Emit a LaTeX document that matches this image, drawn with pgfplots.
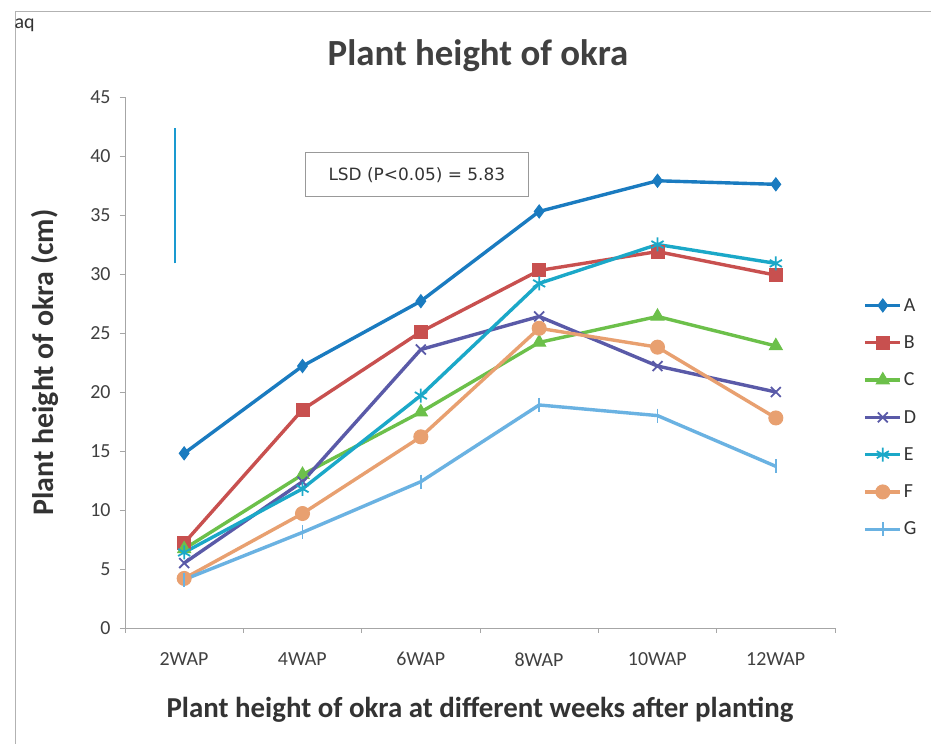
\documentclass[border=0pt]{standalone}
\usepackage{fontspec}
\setmainfont{Carlito}
\newfontfamily\lsdfont{DejaVu Sans}
\usepackage{pgfplots}
\pgfplotsset{compat=1.18}
\definecolor{cA}{HTML}{1A7BC0}
\definecolor{cB}{HTML}{C8504F}
\definecolor{cC}{HTML}{6CC04A}
\definecolor{cD}{HTML}{5A5AA8}
\definecolor{cE}{HTML}{1BA8C8}
\definecolor{cF}{HTML}{E8A070}
\definecolor{cG}{HTML}{6AB2E2}
\definecolor{cL}{HTML}{1A9AD0}
\begin{document}
\begin{tikzpicture}
\useasboundingbox (0,0) rectangle (931bp,744bp);
\fill[white] (0,0) rectangle (931bp,744bp);
\draw[gray!60, line width=1bp] (15bp,0) -- (15bp,732bp) -- (931bp,732bp);
\node[anchor=west, font=\fontsize{20}{22}\selectfont, text=black!80] at (11bp,719bp) {aq};
\node[font=\bfseries\fontsize{37}{40}\selectfont, text=black!75] at (478bp,688bp) {Plant height of okra};
\begin{axis}[
  at={(125bp,116bp)}, anchor=south west,
  scale only axis, width=710bp, height=531bp,
  xmin=-0.5, xmax=5.5, ymin=0, ymax=45,
  axis lines*=left,
  axis line style={gray!70, line width=0.8bp},
  xtick={-0.5,0.5,...,5.5},
  xticklabels={2WAP,4WAP,6WAP,8WAP,10WAP,12WAP,{}},
  ytick={0,5,...,45},
  tick align=outside,
  major tick length=5bp,
  tick style={gray!70, line width=0.8bp},
  yticklabel style={font=\fontsize{20}{22}\selectfont, text=black!75, xshift=-6bp},
  xticklabel style={font=\fontsize{20}{22}\selectfont, text=black!75, yshift=-16bp, xshift=59bp},
  /pgf/number format/assume math mode=true,
  xlabel={Plant height of okra at different weeks after planting},
  ylabel={Plant height of okra (cm)},
  xlabel style={font=\bfseries\fontsize{29}{31}\selectfont, text=black!80, at={(axis description cs:0.5,-0.154)}, anchor=center},
  ylabel style={font=\bfseries\fontsize{30}{32}\selectfont, text=black!80, at={(axis description cs:-0.113,0.5)}, anchor=center},
  legend style={at={(axis description cs:1.04,0.625)}, anchor=north west, draw=none, fill=none,
    font=\fontsize{20}{22}\selectfont, text=black!80, row sep=19bp, inner sep=0pt,
    nodes={inner xsep=2bp}},
  legend image code/.code={\draw[#1] (0bp,0bp) -- (35bp,0bp); \draw[#1, mark repeat=1] plot coordinates {(17.5bp,0bp)};},
  legend cell align=left,
  every axis plot/.append style={line width=3.4bp},
  clip=false,
]
\addplot[cA, mark=diamond*, mark size=6.5bp, mark options={line width=1bp}] coordinates {(0,14.8)(1,22.2)(2,27.7)(3,35.3)(4,37.9)(5,37.6)};
\addlegendentry{A}
\addplot[cB, mark=square*, mark size=6.5bp, mark options={line width=1bp}] coordinates {(0,7.2)(1,18.5)(2,25.1)(3,30.3)(4,31.9)(5,29.9)};
\addlegendentry{B}
\addplot[cC, mark=triangle*, mark size=7.5bp, mark options={line width=1bp}] coordinates {(0,6.7)(1,13.0)(2,18.3)(3,24.2)(4,26.4)(5,23.9)};
\addlegendentry{C}
\addplot[cD, mark=x, mark size=7bp, mark options={line width=1.8bp}] coordinates {(0,5.5)(1,12.4)(2,23.6)(3,26.4)(4,22.2)(5,20.0)};
\addlegendentry{D}
\addplot[cE, mark=asterisk, mark size=7bp, mark options={line width=1.8bp}] coordinates {(0,6.4)(1,11.8)(2,19.7)(3,29.2)(4,32.5)(5,30.9)};
\addlegendentry{E}
\addplot[cF, mark=*, mark size=7bp, mark options={line width=1bp}] coordinates {(0,4.2)(1,9.7)(2,16.2)(3,25.4)(4,23.8)(5,17.8)};
\addlegendentry{F}
\addplot[cG, mark=|, mark size=7bp, mark options={line width=1.5bp}] coordinates {(0,4.1)(1,8.1)(2,12.4)(3,18.9)(4,18.0)(5,13.7)};
\addlegendentry{G}
\addplot[cL, line width=1.8bp, forget plot] coordinates {(-0.08,30.9)(-0.08,42.4)};
\node[draw=gray!80, line width=0.8bp, minimum width=223bp, minimum height=44bp, font=\lsdfont\fontsize{17}{19}\selectfont, text=black!80] at (axis cs:1.966,38.4) {LSD (P<0.05) = 5.83};
\end{axis}
\end{tikzpicture}
\end{document}
